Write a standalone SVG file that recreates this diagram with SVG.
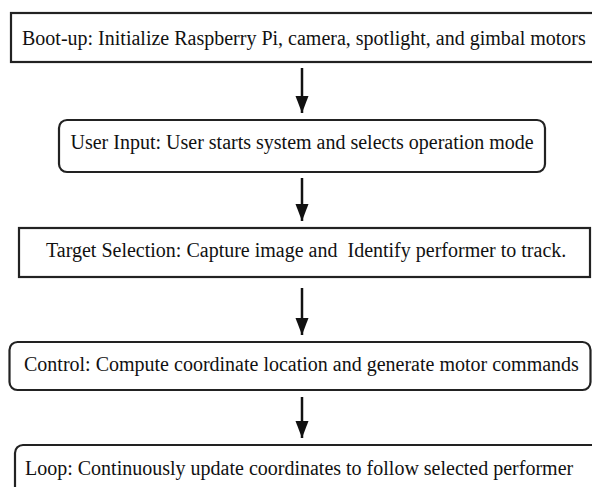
<svg xmlns="http://www.w3.org/2000/svg" width="592" height="487" viewBox="0 0 592 487">
  <style>
    .box { fill: #ffffff; stroke: #222222; stroke-width: 2.2; }
    .caption { font-family: 'Liberation Serif', 'Times New Roman', serif; font-size: 20px; fill: #111111; }
    .link { stroke: #111111; stroke-width: 2.5; fill: none; marker-end: url(#head); }
  </style>
  <defs>
    <!-- solid triangular head, tip placed at the end of each line -->
    <marker id="head" markerUnits="userSpaceOnUse" markerWidth="19" markerHeight="14" refX="17" refY="6.5" orient="auto">
      <path d="M0,0 L17,6.5 L0,13 Z" fill="#111111"/>
    </marker>
  </defs>
  <rect width="592" height="487" fill="#ffffff"/>

  <g id="connectors">
    <line class="link" x1="302" y1="68" x2="302" y2="113"/>
    <line class="link" x1="302" y1="178" x2="302" y2="221"/>
    <line class="link" x1="302" y1="288" x2="302" y2="335"/>
    <line class="link" x1="302" y1="397" x2="302" y2="438"/>
  </g>

  <g id="bootup">
    <rect class="box" x="11" y="13" width="600" height="49"/>
    <text class="caption" x="22" y="44.5">Boot-up: Initialize Raspberry Pi, camera, spotlight, and gimbal motors</text>
  </g>

  <g id="user-input">
    <rect class="box" x="59" y="120" width="486" height="52" rx="8"/>
    <text class="caption" x="70.5" y="148.5">User Input: User starts system and selects operation mode</text>
  </g>

  <g id="target-selection">
    <rect class="box" x="19" y="228" width="571" height="49"/>
    <text class="caption" x="46" y="257" xml:space="preserve">Target Selection: Capture image and  Identify performer to track.</text>
  </g>

  <g id="control">
    <rect class="box" x="9.5" y="342" width="581" height="48" rx="8"/>
    <text class="caption" x="24" y="370.5">Control: Compute coordinate location and generate motor commands</text>
  </g>

  <g id="loop">
    <rect class="box" x="15" y="445" width="590" height="60" rx="8"/>
    <text class="caption" x="25" y="475">Loop: Continuously update coordinates to follow selected performer</text>
  </g>
</svg>
